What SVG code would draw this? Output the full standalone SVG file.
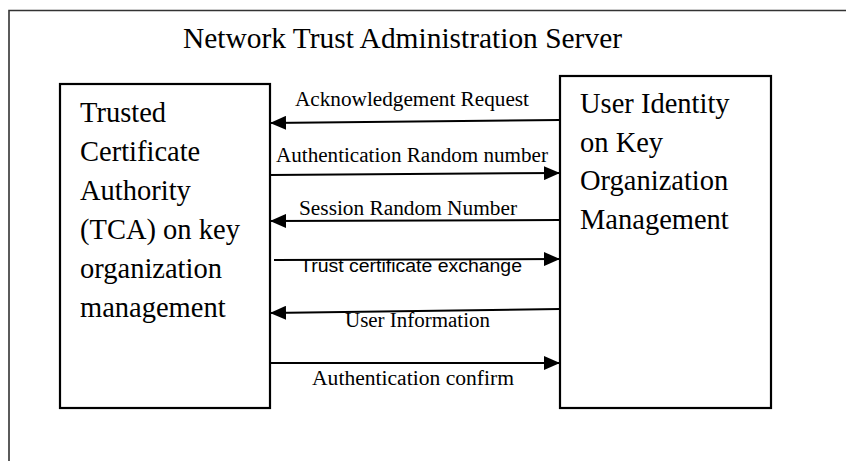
<svg xmlns="http://www.w3.org/2000/svg" width="846" height="461" viewBox="0 0 846 461">
  <style>
    text { fill: #000; }
    .serif { font-family: 'Liberation Serif', 'DejaVu Serif', serif; }
    .box { fill: #fff; stroke: #000; stroke-width: 2.2; }
    .frame { fill: none; stroke: #333; stroke-width: 1.6; }
    .big { font-size: 28.5px; }
    .lbl { font-size: 20px; }
    .sans { font-family: 'Liberation Sans', 'DejaVu Sans', sans-serif; font-size: 18px; }
    .flow { stroke: #000; stroke-width: 2; fill: none; marker-end: url(#head); }
  </style>
  <defs>
    <marker id="head" viewBox="0 0 16 14" refX="16" refY="7" markerWidth="16" markerHeight="14" markerUnits="userSpaceOnUse" orient="auto">
      <path d="M0,0 L16,7 L0,14 Z" fill="#000"/>
    </marker>
  </defs>

  <!-- server frame (open to the right and bottom edges) -->
  <path class="frame" d="M9,470 L9,10.5 L850,10.5"/>
  <text class="serif big" x="183" y="48" textLength="439" lengthAdjust="spacingAndGlyphs">Network Trust Administration Server</text>

  <g id="tca">
    <rect class="box" x="60" y="84" width="210" height="324"/>
    <text class="serif big" x="80" y="122">Trusted</text>
    <text class="serif big" x="80" y="161">Certificate</text>
    <text class="serif big" x="80" y="200">Authority</text>
    <text class="serif big" x="80" y="239">(TCA) on key</text>
    <text class="serif big" x="80" y="278">organization</text>
    <text class="serif big" x="80" y="317">management</text>
  </g>

  <g id="user-identity">
    <rect class="box" x="560" y="76" width="211" height="332"/>
    <text class="serif big" x="580" y="113">User Identity</text>
    <text class="serif big" x="580" y="152">on Key</text>
    <text class="serif big" x="580" y="190">Organization</text>
    <text class="serif big" x="580" y="229">Management</text>
  </g>

  <g id="connectors">
    <line class="flow" x1="560" y1="120" x2="270" y2="123"/>
    <line class="flow" x1="270" y1="175" x2="560" y2="173"/>
    <line class="flow" x1="560" y1="220" x2="270" y2="221"/>
    <line class="flow" x1="274" y1="260" x2="560" y2="259"/>
    <line class="flow" x1="560" y1="309" x2="270" y2="313"/>
    <line class="flow" x1="270" y1="363" x2="560" y2="363"/>

    <text class="serif lbl" x="295" y="106" textLength="234" lengthAdjust="spacingAndGlyphs">Acknowledgement Request</text>
    <text class="serif lbl" x="276" y="162" textLength="272" lengthAdjust="spacingAndGlyphs">Authentication Random number</text>
    <text class="serif lbl" x="299" y="215" textLength="218" lengthAdjust="spacingAndGlyphs">Session Random Number</text>
    <text class="sans" x="300" y="272" textLength="222" lengthAdjust="spacingAndGlyphs">Trust certificate exchange</text>
    <text class="serif lbl" x="345" y="327" textLength="145" lengthAdjust="spacingAndGlyphs">User Information</text>
    <text class="serif lbl" x="312" y="385" textLength="202" lengthAdjust="spacingAndGlyphs">Authentication confirm</text>
  </g>
</svg>
